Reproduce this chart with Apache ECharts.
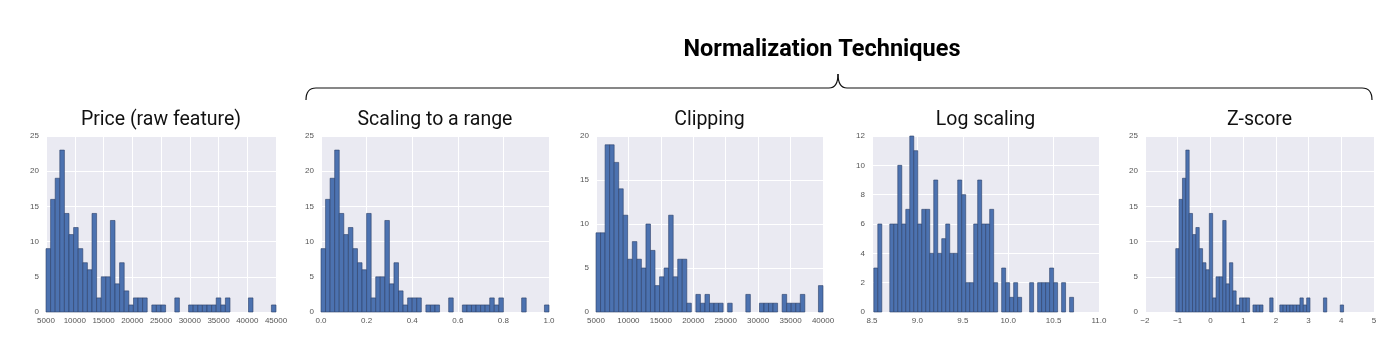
<!DOCTYPE html>
<html>
<head>
<meta charset="utf-8">
<script src="https://cdn.jsdelivr.net/npm/echarts@6/dist/echarts.min.js"></script>
<style>
  html, body { margin: 0; padding: 0; background: #fff; }
  #main { width: 1398px; height: 352px; }
</style>
</head>
<body>
<div id="main"></div>
<script>
// counts per bin (50 bins each)
var priceCounts = [9,16,19,23,14,11,12,9,7,6,14,2,5,5,13,4,7,3,1,2,2,2,0,1,1,1,0,0,2,0,0,1,1,1,1,1,1,2,1,2,0,0,0,0,2,0,0,0,0,1];
var clipCounts = [9,9,19,19,17,14,11,6,8,6,5,10,7,3,4,5,11,4,6,6,1,0,2,1,2,1,1,1,0,1,0,0,0,2,0,0,1,1,1,1,0,2,1,1,1,2,0,0,0,3];
var logCounts = [3,6,0,0,6,6,10,6,7,12,11,6,7,7,4,9,4,5,6,4,4,9,8,2,2,6,9,6,6,7,2,0,3,2,1,2,1,0,0,2,0,2,2,2,3,2,0,2,0,1];

var titles = ['Price (raw feature)', 'Scaling to a range', 'Clipping', 'Log scaling', 'Z-score'];
var mainTitle = 'Normalization Techniques';

// bin start / bin width per panel
var binStart = [5000, 0, 5000, 8.52, -1.06];
var binWidth = [800, 0.02, 700, 0.044, 0.1026];
var panelCounts = [priceCounts, priceCounts, clipCounts, logCounts, priceCounts];

// axis ranges and tick steps
var xMin = [5000, 0, 5000, 8.5, -2];
var xMax = [45000, 1, 40000, 11, 5];
var xStep = [5000, 0.2, 5000, 0.5, 1];
var yMax = [25, 25, 20, 12, 25];
var yStep = [5, 5, 5, 2, 5];

// plot boxes
var lefts = [46, 321, 596, 872, 1145];
var widths = [230, 228, 227, 227, 229];
var top0 = 136, bottom0 = 312;

function binData(k) {
  var out = [];
  panelCounts[k].forEach(function (c, i) {
    if (c > 0) {
      var a = binStart[k] + i * binWidth[k];
      out.push([a, a + binWidth[k], c]);
    }
  });
  return out;
}

function fmtX(k) {
  return function (v) {
    if (k == 1 || k == 3) return v.toFixed(1);
    if (v < 0) return '\u2212' + Math.abs(v);
    return String(v);
  };
}

var grids = [], xAxes = [], yAxes = [], series = [];
for (var k = 0; k < 5; k++) {
  grids.push({
    left: lefts[k], top: top0, width: widths[k], height: bottom0 - top0,
    show: true, backgroundColor: '#EAEAF2', borderWidth: 0
  });
  xAxes.push({
    type: 'value', gridIndex: k, min: xMin[k], max: xMax[k], interval: xStep[k],
    axisLine: { show: false }, axisTick: { show: false },
    splitLine: { lineStyle: { color: '#fff', width: 1 } },
    axisLabel: { fontSize: 8, color: '#555', margin: 5, fontFamily: 'Liberation Sans', formatter: fmtX(k),
      showMinLabel: true, showMaxLabel: true }
  });
  yAxes.push({
    type: 'value', gridIndex: k, min: 0, max: yMax[k], interval: yStep[k],
    axisLine: { show: false }, axisTick: { show: false },
    splitLine: { lineStyle: { color: '#fff', width: 1 } },
    axisLabel: { fontSize: 8, color: '#555', margin: 7, fontFamily: 'Liberation Sans' }
  });
  series.push({
    type: 'custom', xAxisIndex: k, yAxisIndex: k,
    data: binData(k),
    encode: { x: [0, 1], y: 2 },
    renderItem: function (params, api) {
      var p0 = api.coord([api.value(0), 0]);
      var p1 = api.coord([api.value(1), api.value(2)]);
      return {
        type: 'rect',
        shape: { x: p0[0], y: p1[1], width: p1[0] - p0[0], height: p0[1] - p1[1] },
        style: { fill: '#4C72B0', stroke: '#2b3f68', lineWidth: 0.6 }
      };
    }
  });
}

var graphics = [];
titles.forEach(function (t, k) {
  graphics.push({
    type: 'text', x: lefts[k] + widths[k] / 2, y: 120,
    style: { text: t, fontSize: 19.5, fontFamily: 'Roboto', fill: '#111', align: 'center', verticalAlign: 'middle' }
  });
});
graphics.push({
  type: 'text', x: 822, y: 50,
  style: { text: mainTitle, fontSize: 23.5, fontWeight: 'bold', fontFamily: 'Roboto', fill: '#000', align: 'center', verticalAlign: 'middle' }
});
// curly brace over the four technique panels
var braceStyle = { fill: 'none', stroke: '#111', lineWidth: 1.2 };
graphics.push({ type: 'bezierCurve', shape: { x1: 306, y1: 100, x2: 316, y2: 88, cpx1: 306, cpy1: 88 }, style: braceStyle });
graphics.push({ type: 'line', shape: { x1: 316, y1: 88, x2: 829, y2: 88 }, style: braceStyle });
graphics.push({ type: 'bezierCurve', shape: { x1: 829, y1: 88, x2: 838, y2: 74, cpx1: 838, cpy1: 88 }, style: braceStyle });
graphics.push({ type: 'bezierCurve', shape: { x1: 838, y1: 74, x2: 847, y2: 88, cpx1: 838, cpy1: 88 }, style: braceStyle });
graphics.push({ type: 'line', shape: { x1: 847, y1: 88, x2: 1362, y2: 88 }, style: braceStyle });
graphics.push({ type: 'bezierCurve', shape: { x1: 1362, y1: 88, x2: 1372, y2: 100, cpx1: 1372, cpy1: 88 }, style: braceStyle });

var chart = echarts.init(document.getElementById('main'), null, { renderer: 'canvas' });
chart.setOption({
  animation: false,
  grid: grids,
  xAxis: xAxes,
  yAxis: yAxes,
  series: series,
  graphic: graphics
});
</script>
</body>
</html>
